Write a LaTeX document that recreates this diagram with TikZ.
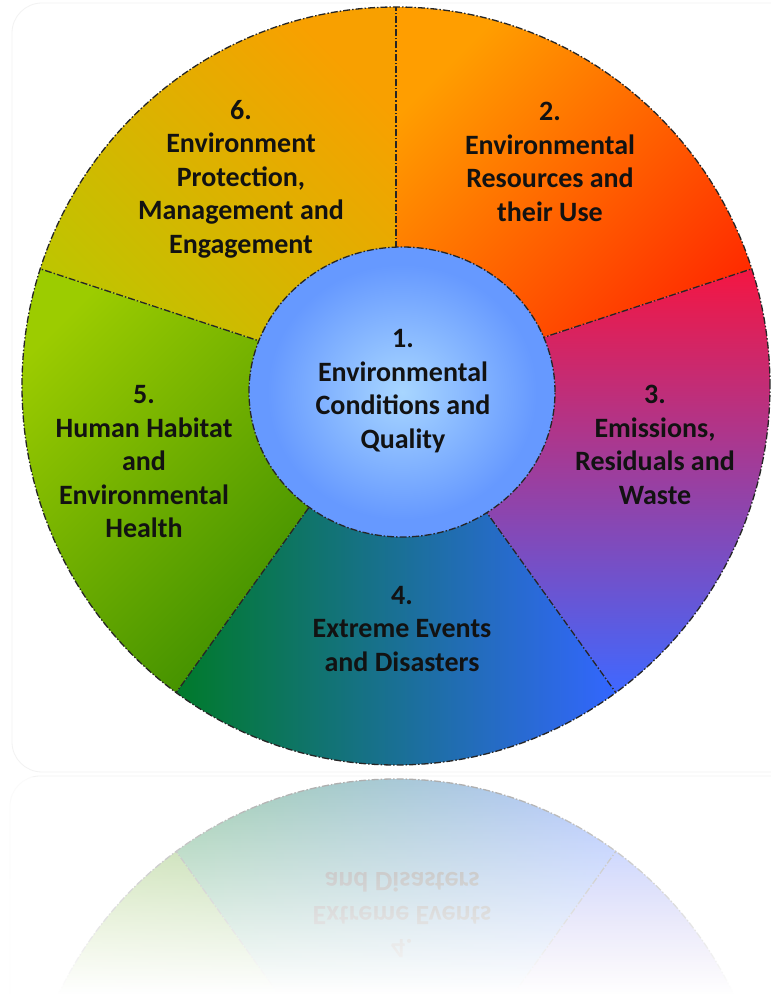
\documentclass[tikz,border=0pt]{standalone}
\usepackage{fontspec}
\setmainfont{Carlito}
\usetikzlibrary{fadings}
\definecolor{sTwoA}{HTML}{FF9E00}
\definecolor{sTwoB}{HTML}{FF2800}
\definecolor{sSixA}{HTML}{F8A000}
\definecolor{sSixB}{HTML}{BCC600}
\definecolor{sFiveA}{HTML}{9CCC00}
\definecolor{sFiveB}{HTML}{358800}
\definecolor{sFourA}{HTML}{007A2A}
\definecolor{sFourB}{HTML}{3366FF}
\definecolor{sThreeA}{HTML}{F41642}
\definecolor{sThreeM}{HTML}{D0389C}
\definecolor{sThreeB}{HTML}{3F68FF}
\definecolor{inA}{HTML}{A8D6FF}
\definecolor{inB}{HTML}{6699FF}
\definecolor{txt}{HTML}{121212}
\pgfdeclareradialshading{innerglow}{\pgfpoint{0bp}{0bp}}{color(0bp)=(inA); color(22bp)=(inB); color(50bp)=(inB)}
\tikzfading[name=reflfade, top color=transparent!38, bottom color=transparent!0]
\tikzset{
  divider/.style={draw=black!85, line width=1.3pt, dash pattern=on 7pt off 2pt on 1.5pt off 2pt},
  sectortext/.style={font=\fontsize{28}{33.5}\selectfont\bfseries, align=center, text=txt, inner sep=0pt},
  panel/.style={draw=black!5, line width=0.8pt, rounded corners=30pt}
}
\newcommand\drawwheel[1]{%
  \coordinate (#1O) at (396,608);
  \coordinate (#1I) at (402,602);
  % sector 2
  \shade[top color=sTwoA, bottom color=sTwoB, shading angle=45]
    (#1O) -- ++(18:374pt and 379pt) arc[start angle=18, end angle=90, x radius=374pt, y radius=379pt] -- cycle;
  % sector 6
  \shade[top color=sSixA, bottom color=sSixB, shading angle=-45]
    (#1O) -- ++(90:374pt and 379pt) arc[start angle=90, end angle=162, x radius=374pt, y radius=379pt] -- cycle;
  % sector 5
  \shade[top color=sFiveA, bottom color=sFiveB, shading angle=45]
    (#1O) -- ++(162:374pt and 379pt) arc[start angle=162, end angle=234, x radius=374pt, y radius=379pt] -- cycle;
  % sector 4
  \shade[left color=sFourA, right color=sFourB]
    (#1O) -- ++(234:374pt and 379pt) arc[start angle=234, end angle=306, x radius=374pt, y radius=379pt] -- cycle;
  % sector 3
  \shade[top color=sThreeA, middle color=sThreeM, bottom color=sThreeB]
    (#1O) -- ++(306:374pt and 379pt) arc[start angle=306, end angle=378, x radius=374pt, y radius=379pt] -- cycle;
  % dividers and rim
  \foreach \a in {18,90,162,234,306}
    \draw[divider] (#1O) -- ++(\a:374pt and 379pt);
  \draw[divider] (#1O) ellipse[x radius=374pt, y radius=379pt];
  % centre
  \shade[shading=innerglow] (#1I) ellipse[x radius=153pt, y radius=145pt];
  \draw[divider] (#1I) ellipse[x radius=153pt, y radius=145pt];
  \node[sectortext] (#1t4) at (402,365) {4.\\Extreme Events\\and Disasters};
}
\begin{document}
\begin{tikzpicture}[x=1pt, y=1pt]
  \useasboundingbox (0,0) rectangle (771,994);
  \fill[white] (0,0) rectangle (771,994);
  % faint panels
  \draw[panel] (12,991) rectangle (800,222);
  \draw[panel] (10,218) rectangle (800,-40);
  % main wheel
  \drawwheel{m}
  \node[sectortext] (t1) at (403,603) {1.\\Environmental\\Conditions and\\Quality};
  \node[sectortext] (t2) at (550,832) {2.\\Environmental\\Resources and\\their Use};
  \node[sectortext] (t3) at (655,549) {3.\\Emissions,\\Residuals and\\Waste};
  \node[sectortext] (t5) at (144,532) {5.\\Human Habitat\\and\\Environmental\\Health};
  \node[sectortext] (t6) at (241,815) {6.\\Environment\\Protection,\\Management and\\Engagement};
  % reflection
  \begin{scope}
    \clip (0,0) rectangle (771,217);
    \begin{scope}[transform canvas={yshift=444pt, yscale=-1}]
      \drawwheel{r}
    \end{scope}
    \fill[white, path fading=reflfade] (0,0) rectangle (771,217);
  \end{scope}
\end{tikzpicture}
\end{document}
